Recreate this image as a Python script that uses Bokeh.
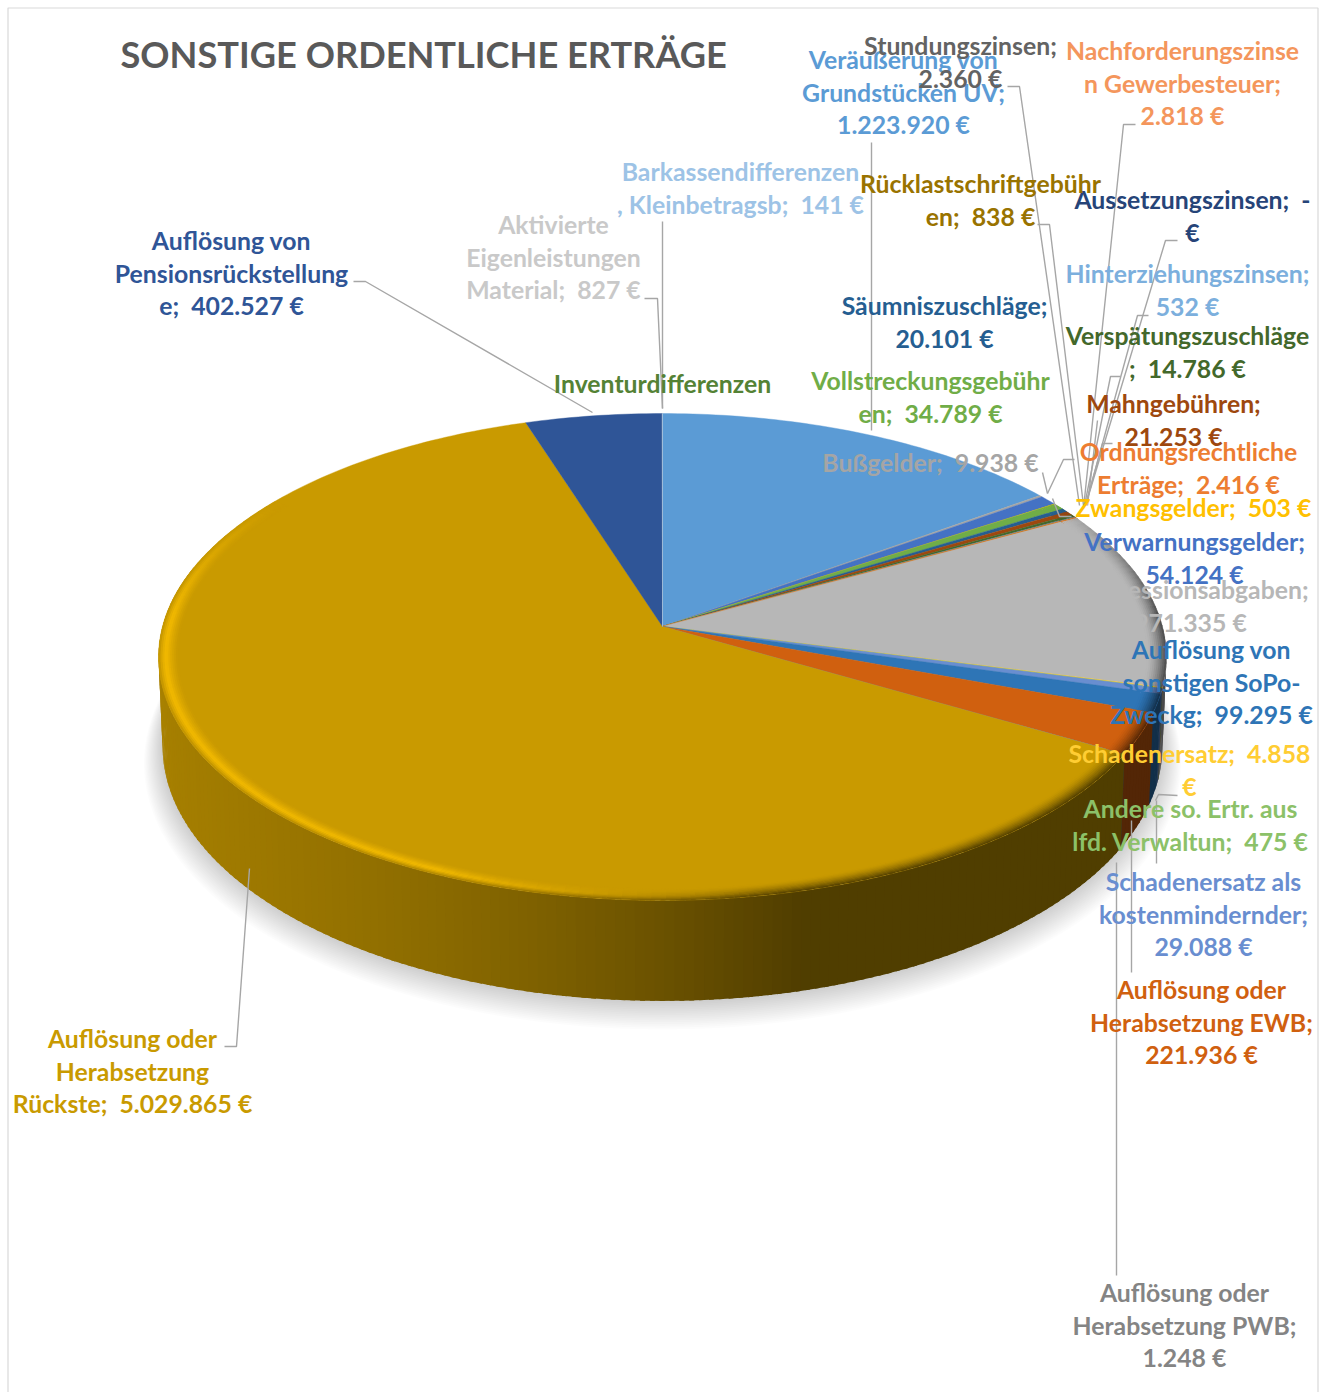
import math
from bokeh.plotting import figure
from bokeh.embed import file_html
from bokeh.resources import INLINE
from bokeh.core.properties import value
from bokeh.models import ColumnDataSource

# ---------- data ----------
TITLE = "SONSTIGE ORDENTLICHE ERTRÄGE"
categories = ["Veräußerung von Grundstücken UV", "Bußgelder", "Verwarnungsgelder", "Zwangsgelder",
              "Vollstreckungsgebühren", "Säumniszuschläge", "Mahngebühren", "Verspätungszuschläge",
              "Hinterziehungszinsen", "Aussetzungszinsen", "Stundungszinsen",
              "Nachforderungszinsen Gewerbesteuer", "Rücklastschriftgebühren", "Ordnungsrechtliche Erträge",
              "Konzessionsabgaben", "Schadenersatz", "Andere so. Ertr. aus lfd. Verwaltun",
              "Schadenersatz als kostenmindernder", "Auflösung von sonstigen SoPo-Zweckg",
              "Auflösung oder Herabsetzung EWB", "Auflösung oder Herabsetzung PWB",
              "Auflösung oder Herabsetzung Rückste", "Auflösung von Pensionsrückstellunge",
              "Inventurdifferenzen", "Aktivierte Eigenleistungen Material", "Barkassendifferenzen, Kleinbetragsb"]
values = [1223920, 9938, 54124, 503, 34789, 20101, 21253, 14786, 532, 0, 2360, 2818, 838, 2416,
          971335, 4858, 475, 29088, 99295, 221936, 1248, 5029865, 402527, 0, 827, 141]
colors = ["#5b9bd5", "#a5a5a5", "#4472c4", "#ffc000", "#70ad47", "#255e91", "#9e480e", "#43682b",
          "#7cafdd", "#264478", "#636363", "#f4965c", "#997300", "#ed7d31", "#b7b7b7", "#ffcd33",
          "#8cc168", "#698ed0", "#2e75b6", "#d0600f", "#848484", "#c99a00", "#2f5597", "#548235",
          "#c9c9c9", "#9dc3e6"]
S = ";\u00a0 "
label_lines = [
    ["Veräußerung von", "Grundstücken UV;", "1.223.920 €"],
    ["Bußgelder" + S + "9.938 €"],
    ["Verwarnungsgelder;", "54.124 €"],
    ["Zwangsgelder" + S + "503 €"],
    ["Vollstreckungsgebühr", "en" + S + "34.789 €"],
    ["Säumniszuschläge;", "20.101 €"],
    ["Mahngebühren;", "21.253 €"],
    ["Verspätungszuschläge", S + "14.786 €"],
    ["Hinterziehungszinsen;", "532 €"],
    ["Aussetzungszinsen" + S + "-", "€"],
    ["Stundungszinsen;", "2.360 €"],
    ["Nachforderungszinse", "n Gewerbesteuer;", "2.818 €"],
    ["Rücklastschriftgebühr", "en" + S + "838 €"],
    ["Ordnungsrechtliche", "Erträge" + S + "2.416 €"],
    ["Konzessionsabgaben;", "971.335 €"],
    ["Schadenersatz" + S + "4.858", "€"],
    ["Andere so. Ertr. aus", "lfd. Verwaltun" + S + "475 €"],
    ["Schadenersatz als", "kostenmindernder;", "29.088 €"],
    ["Auflösung von", "sonstigen SoPo-", "Zweckg" + S + "99.295 €"],
    ["Auflösung oder", "Herabsetzung EWB;", "221.936 €"],
    ["Auflösung oder", "Herabsetzung PWB;", "1.248 €"],
    ["Auflösung oder", "Herabsetzung", "Rückste" + S + "5.029.865 €"],
    ["Auflösung von", "Pensionsrückstellung", "e" + S + "402.527 €"],
    ["Inventurdifferenzen"],
    ["Aktivierte", "Eigenleistungen", "Material" + S + "827 €"],
    ["Barkassendifferenzen", ", Kleinbetragsb" + S + "141 €"],
]

# ---------- layout (page pixels) ----------
label_x = [903, 930, 1194, 1193, 930, 944, 1173, 1187, 1187, 1192, 960, 1182, 980, 1188,
           1190, 1189, 1190, 1203, 1211, 1201, 1184, 132, 231, 662, 553, 740]
label_y = [59, 462, 541, 507, 380, 305, 403, 335, 273, 199, 45, 50, 183, 451,
           589, 753, 808, 881, 649, 989, 1292, 1038, 240, 383, 224, 171]
LINE_STEP = 32.5
leader_paths = [
    [(1007, 86), (1019, 86), (1079, 505)],
    [(1135, 124), (1123, 124), (1083, 508)],
    [(1037, 224), (1049, 224), (1083, 505)],
    [(1177, 240), (1165, 240), (1085, 505)],
    [(1148, 315), (1137, 315), (1085, 505)],
    [(1120, 376), (1110, 376), (1084, 505)],
    [(1097, 420), (1087, 505)],
    [(1112, 443), (1102, 443), (1085, 505)],
    [(871, 142), (871, 430)],
    [(662, 221), (662, 408)],
    [(644, 298), (657, 298), (662, 408)],
    [(353, 281), (365, 281), (592, 412)],
    [(224, 1046), (236, 1046), (249, 868)],
    [(1042, 472), (1047, 493)],
    [(1074, 459), (1063, 459), (1047, 493)],
    [(1052, 498), (1059, 516), (1071, 516)],
    [(1177, 795), (1158, 794), (1155, 800)],
    [(1156, 800), (1156, 863)],
    [(1131, 820), (1131, 972)],
    [(1116, 862), (1116, 1275)],
]
CX, CY, A, B, K, H = 662.0, 626.0, 500.0, 239.6, 0.125, 88.0
WALL_X = [150, 170, 400, 530, 660, 800, 1200]
WALL_F = [.85, .82, .71, .63, .53, .40, .40]
W, HT = 1327, 1392


def proj(theta, r=1.0, h=0.0):
    u, v = r * math.sin(theta), r * math.cos(theta)
    s = 1 / (1 + K * v)
    x = CX + A * u * s
    y = CY - B * v * s + h * s
    if h:
        x = CX + (x - CX) * 0.992
    return x, y


def rgb(c):
    return [int(c[i:i + 2], 16) for i in (1, 3, 5)]


def hexc(c):
    return "#%02x%02x%02x" % tuple(max(0, min(255, int(round(q)))) for q in c)


def mix(a, b, t):
    return [p + (q - p) * t for p, q in zip(a, b)]


def wall_factor(x):
    for i in range(len(WALL_X) - 1):
        if x <= WALL_X[i + 1]:
            t = max(0, (x - WALL_X[i]) / (WALL_X[i + 1] - WALL_X[i]))
            return WALL_F[i] + (WALL_F[i + 1] - WALL_F[i]) * t
    return WALL_F[-1]


def clamp(t):
    return max(0.0, min(1.0, t))


p = figure(width=W, height=HT, x_range=(0, W), y_range=(HT, 0), toolbar_location=None,
           output_backend="svg", min_border=0)
p.axis.visible = False
p.grid.visible = False
p.outline_line_color = None
p.background_fill_color = "white"

# frame
p.multi_line([[7.5, 7.5, 1317.5, 1317.5]], [[HT, 7.5, 7.5, HT]], line_color="#d9d9d9", line_width=1.2)

# soft shadow
full = [math.radians(t) for t in range(0, 361, 2)]
for j in range(16, 0, -1):
    pts = [proj(t, 1 + 0.0023 * j, H + 0.9 * j) for t in full]
    p.patch([q[0] for q in pts], [q[1] for q in pts], fill_color="black", fill_alpha=0.012, line_color=None)

# slices: angle ranges from the values
total = float(sum(values))
ranges = []
acc = 0.0
for val, col in zip(values, colors):
    if val > 0:
        t0 = acc / total * 2 * math.pi
        t1 = (acc + val) / total * 2 * math.pi
        ranges.append((t0, t1, rgb(col)))
    acc += val


def steps(t0, t1, d):
    n = max(1, int(math.ceil((t1 - t0) / d)))
    return [t0 + (t1 - t0) * i / n for i in range(n + 1)]


OVER = math.radians(0.5)

# side wall (each quad overlaps the next so that no seams show)
wx, wy, wc = [], [], []
for t0, t1, base in ranges:
    st = steps(t0, t1, math.radians(1.0))
    for a0, a1 in zip(st[:-1], st[1:]):
        if math.cos((a0 + a1) / 2) > 0.25:
            continue
        q0, q1 = proj(a0), proj(a1 + OVER)
        q2, q3 = proj(a1 + OVER, 1, H), proj(a0, 1, H)
        wx.append([q0[0], q1[0], q2[0], q3[0]])
        wy.append([q0[1], q1[1], q2[1], q3[1]])
        f = wall_factor((q0[0] + q1[0]) / 2)
        wc.append(hexc([c * f for c in base]))
p.patches(wx, wy, fill_color=wc, line_color=None)

# top surface
tx, ty, tc = [], [], []
for t0, t1, base in ranges:
    st = steps(t0, t1, math.radians(1.0))
    pts = [(CX, CY)] + [proj(a) for a in st]
    tx.append([q[0] for q in pts])
    ty.append([q[1] for q in pts])
    tc.append(hexc(base))
p.patches(tx, ty, fill_color=tc, line_color=tc, line_width=0.4)

# bevelled rim
N_LAYERS = 10
R_IN = 0.962
rx, ry, rc = [], [], []
for t0, t1, base in ranges:
    st = steps(t0, t1, math.radians(1.5))
    for a0, a1 in zip(st[:-1], st[1:]):
        am = (a0 + a1) / 2
        v = math.cos(am)
        vis = clamp((0.55 - v) / 0.5)
        if vis <= 0:
            continue
        xm = proj(am)[0]
        light = clamp((760 - xm) / 330)
        wall = [c * wall_factor(xm) for c in base]
        bright = [c * 1.2 for c in base]
        for li in range(N_LAYERS):
            r0 = R_IN + (1 - R_IN) * li / N_LAYERS
            r1 = min(1.0, R_IN + (1 - R_IN) * (li + 1) / N_LAYERS + 0.001)
            t = (li + 0.5) / N_LAYERS
            if t < .6:
                lc = mix(base, bright, (t / .6) ** 1.3)
            else:
                lc = mix(bright, wall, ((t - .6) / .4) ** 1.5 * .7)
            dc = mix(base, wall, t ** 1.6)
            col = mix(mix(dc, lc, light), base, 1 - vis)
            pts = [proj(a0, r0), proj(a1 + OVER, r0), proj(a1 + OVER, r1), proj(a0, r1)]
            rx.append([q[0] for q in pts])
            ry.append([q[1] for q in pts])
            rc.append(hexc(col))
p.patches(rx, ry, fill_color=rc, line_color=None)

# leader lines
p.multi_line([[q[0] for q in path] for path in leader_paths],
             [[q[1] for q in path] for path in leader_paths],
             line_color="#a6a6a6", line_width=1.4)

# labels
xs, ys, txt, cs = [], [], [], []
for lines, lx, ly, col in zip(label_lines, label_x, label_y, colors):
    for i, line in enumerate(lines):
        xs.append(lx)
        ys.append(ly + i * LINE_STEP)
        txt.append(line)
        cs.append(col)
src = ColumnDataSource(dict(x=xs, y=ys, text=txt, color=cs))
p.text("x", "y", text="text", source=src, text_color="color", text_font=value("Lato"),
       text_font_style="bold", text_font_size="24.8px", text_align="center", text_baseline="middle")

p.text([120], [53], text=[TITLE], text_color="#595959", text_font=value("Lato"), text_font_style="bold",
       text_font_size="36.2px", text_align="left", text_baseline="middle")

open("out.html", "w").write(file_html(p, INLINE))
